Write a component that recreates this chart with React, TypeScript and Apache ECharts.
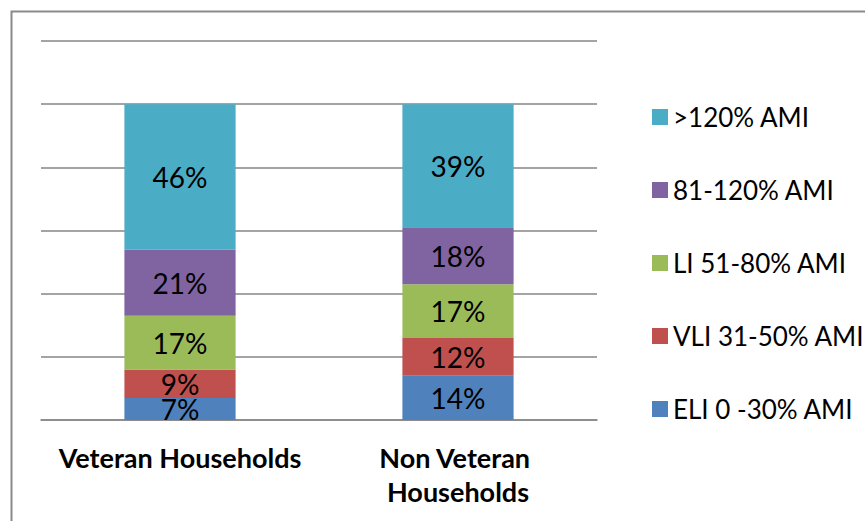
import React, { useEffect, useRef } from "react";
import * as echarts from "echarts";

const categories = ["Veteran Households", "Non Veteran Households"];
const seriesNames = ["ELI 0 -30% AMI", "VLI 31-50% AMI", "LI 51-80% AMI", "81-120% AMI", ">120% AMI"];
const eli = [7, 14];
const vli = [9, 12];
const li = [17, 17];
const mod = [21, 18];
const high = [46, 39];
const colors = ["#4F81BD", "#C0504D", "#9BBB59", "#8064A2", "#4BACC6"];

export default function App() {
  const ref = useRef<HTMLDivElement>(null);
  useEffect(() => {
    const chart = echarts.init(ref.current!, undefined, { renderer: "svg" });
    const values = [eli, vli, li, mod, high];
    const font = "Lato, 'Open Sans', sans-serif";
    chart.setOption({
      animation: false,
      textStyle: { fontFamily: font },
      grid: { left: 41, right: 268, top: 41, bottom: 101 },
      graphic: [
        {
          type: "rect",
          shape: { x: 11.5, y: 11.5, width: 900, height: 600 },
          style: { fill: "none", stroke: "#8a8a8a", lineWidth: 2 },
          silent: true,
        },
      ],
      legend: {
        orient: "vertical",
        left: 647,
        top: 99,
        itemWidth: 16,
        itemHeight: 16,
        itemGap: 47,
        icon: "rect",
        data: [...seriesNames].reverse(),
        textStyle: { fontSize: 26, color: "#000", fontFamily: font, lineHeight: 26 },
      },
      xAxis: {
        type: "category",
        data: categories,
        axisLine: { lineStyle: { color: "#868686", width: 1.5 } },
        axisTick: { show: false },
        axisLabel: {
          color: "#000",
          fontSize: 27,
          fontWeight: "bold",
          fontFamily: font,
          margin: 20,
          lineHeight: 34,
          width: 260,
          overflow: "break",
          interval: 0,
        },
      },
      yAxis: {
        type: "value",
        min: 0,
        max: 120,
        interval: 20,
        axisLabel: { show: false },
        axisLine: { show: false },
        axisTick: { show: false },
        splitLine: { lineStyle: { color: "#868686", width: 1.5 } },
      },
      series: seriesNames.map((name, i) => ({
        name,
        type: "bar",
        stack: "total",
        barWidth: "40%",
        data: values[i],
        itemStyle: { color: colors[i] },
        label: {
          show: true,
          position: "inside",
          formatter: "{c}%",
          color: "#000",
          fontSize: 28,
          lineHeight: 20,
          fontFamily: font,
        },
      })),
    });
    return () => chart.dispose();
  }, []);
  return <div ref={ref} style={{ width: 865, height: 521, position: "absolute", left: 0, top: 0 }} />;
}
